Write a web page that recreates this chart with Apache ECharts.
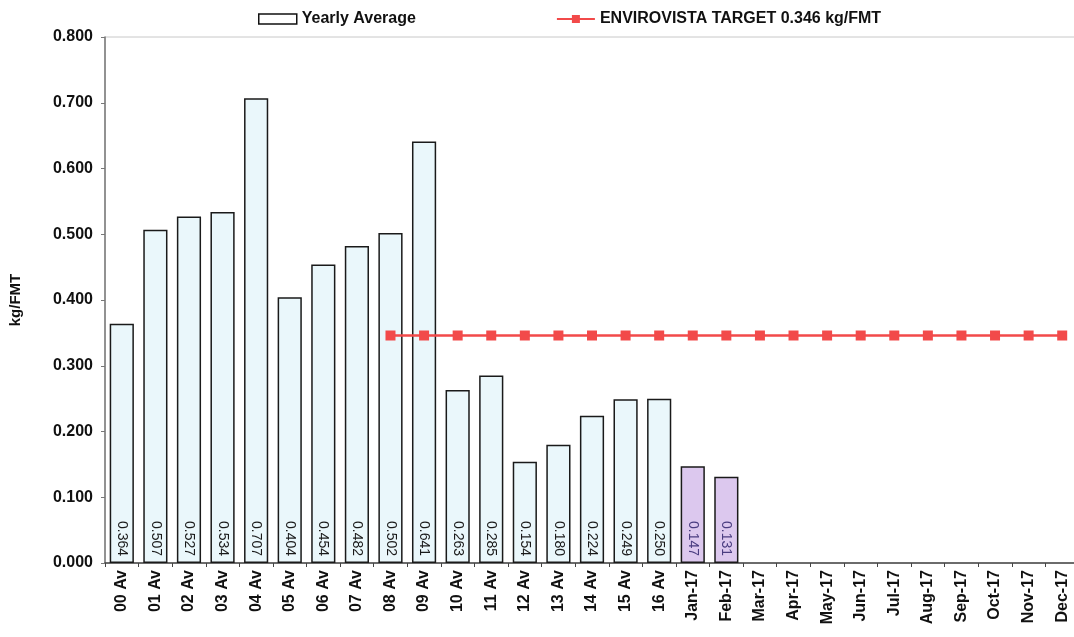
<!DOCTYPE html>
<html>
<head>
<meta charset="utf-8">
<script src="https://cdn.jsdelivr.net/npm/echarts@6/dist/echarts.min.js"></script>
<style>
  html, body { margin: 0; padding: 0; background: #fff; overflow: hidden; }
  #main { width: 1080px; height: 637px; }
</style>
</head>
<body>
<div id="main"></div>
<script>
const categories = ['00 Av', '01 Av', '02 Av', '03 Av', '04 Av', '05 Av', '06 Av', '07 Av', '08 Av', '09 Av',
  '10 Av', '11 Av', '12 Av', '13 Av', '14 Av', '15 Av', '16 Av',
  'Jan-17', 'Feb-17', 'Mar-17', 'Apr-17', 'May-17', 'Jun-17', 'Jul-17', 'Aug-17', 'Sep-17', 'Oct-17', 'Nov-17', 'Dec-17'];
const yearlyAverage = [0.364, 0.507, 0.527, 0.534, 0.707, 0.404, 0.454, 0.482, 0.502, 0.641,
  0.263, 0.285, 0.154, 0.180, 0.224, 0.249, 0.250,
  0.147, 0.131, null, null, null, null, null, null, null, null, null, null];
const target = [null, null, null, null, null, null, null, null, 0.346, 0.346,
  0.346, 0.346, 0.346, 0.346, 0.346, 0.346, 0.346,
  0.346, 0.346, 0.346, 0.346, 0.346, 0.346, 0.346, 0.346, 0.346, 0.346, 0.346, 0.346];

const chart = echarts.init(document.getElementById('main'));
const font = 'Liberation Sans, Arial, sans-serif';

// monthly bars get the purple fill
const barData = yearlyAverage.map((v, i) => {
  const monthly = categories[i].indexOf('-') > 0;
  return {
    value: v,
    itemStyle: { color: monthly ? '#dcc8ee' : '#eaf7fb' },
    label: { color: monthly ? '#4a3d80' : '#1a1a1a' }
  };
});

const option = {
  animation: false,
  textStyle: { fontFamily: font },
  grid: {
    left: 104, top: 37, bottom: 74, right: 1,
    show: true, borderColor: '#c8c8c8', borderWidth: 1
  },
  legend: {
    left: 253, top: 6,
    itemWidth: 38, itemHeight: 10, itemGap: 140,
    textStyle: { fontFamily: font, fontWeight: 'bold', fontSize: 16, color: '#111' },
    data: [
      { name: 'Yearly Average', icon: 'rect', itemStyle: { color: '#fff', borderColor: '#111', borderWidth: 1.5 } },
      { name: 'ENVIROVISTA TARGET 0.346 kg/FMT' }
    ]
  },
  xAxis: {
    type: 'category',
    data: categories,
    axisLine: { lineStyle: { color: '#444', width: 1.5 } },
    axisTick: { show: true, length: 4, lineStyle: { color: '#444' } },
    axisLabel: {
      interval: 0, rotate: 90, margin: 7,
      fontFamily: font, fontWeight: 'bold', fontSize: 16, color: '#111'
    }
  },
  yAxis: {
    type: 'value',
    min: 0, max: 0.8, interval: 0.1,
    name: 'kg/FMT',
    nameLocation: 'middle',
    nameGap: 82,
    nameRotate: 90,
    nameTextStyle: { fontFamily: font, fontWeight: 'bold', fontSize: 15, color: '#111' },
    axisLine: { show: true, lineStyle: { color: '#777', width: 1.5 } },
    axisTick: { show: true, length: 4, lineStyle: { color: '#777' } },
    splitLine: { show: false },
    axisLabel: {
      margin: 12,
      fontFamily: font, fontWeight: 'bold', fontSize: 16, color: '#111',
      formatter: v => v.toFixed(3)
    }
  },
  series: [
    {
      name: 'Yearly Average',
      type: 'bar',
      data: barData,
      barWidth: '72%',
      itemStyle: { borderColor: '#1a1a1a', borderWidth: 1.5 },
      label: {
        show: true,
        position: 'insideBottom',
        distance: 7,
        rotate: -90,
        align: 'right',
        verticalAlign: 'middle',
        fontFamily: font,
        fontSize: 14,
        formatter: p => p.value.toFixed(3)
      }
    },
    {
      name: 'ENVIROVISTA TARGET 0.346 kg/FMT',
      type: 'line',
      data: target,
      symbol: 'rect',
      symbolSize: 10,
      itemStyle: { color: '#f24a4a' },
      lineStyle: { color: '#f24a4a', width: 2.5 }
    }
  ]
};

chart.setOption(option);
</script>
</body>
</html>
